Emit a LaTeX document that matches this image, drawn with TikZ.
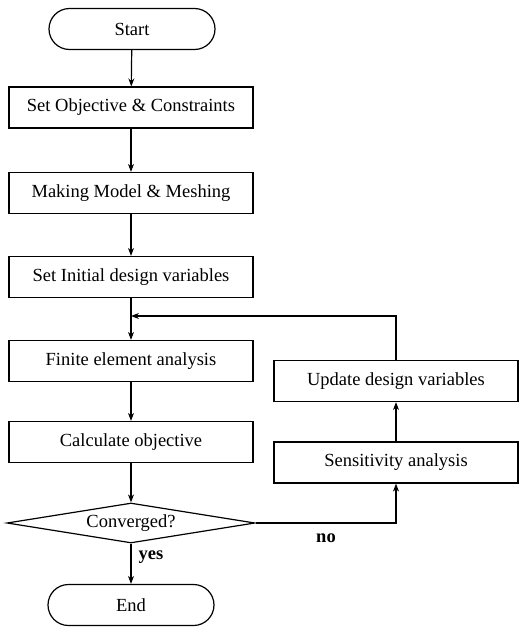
\documentclass[tikz,border=0pt]{standalone}
\usepackage{fontspec}
\setmainfont{Liberation Serif}
\usetikzlibrary{shapes.geometric,shapes.misc,arrows.meta}
\begin{document}
\begin{tikzpicture}[x=1pt,y=-1pt,
  font=\fontsize{18.5}{21}\selectfont,
  every node/.style={inner sep=0pt},
  stepbox/.style={draw,line width=1.2pt,minimum width=244pt,minimum height=41pt},
  term/.style={draw,line width=1.2pt,rounded rectangle,minimum width=166pt,minimum height=41pt},
  decision/.style={draw,line width=1.2pt,diamond,aspect=6.2,minimum width=248pt,minimum height=40pt},
  arr/.style={line width=1.2pt,-{Stealth[length=8pt,width=6pt]}},
  lbl/.style={font=\fontsize{18.5}{21}\selectfont\bfseries}]
\useasboundingbox (0,0) rectangle (519,627);
\node[term] (start) at (132,29) {Start};
\node[stepbox] (obj) at (131,107.5) {Set Objective \& Constraints};
\node[stepbox] (model) at (131,193) {Making Model \& Meshing};
\node[stepbox] (init) at (131,277) {Set Initial design variables};
\node[stepbox] (fea) at (131,361) {Finite element analysis};
\node[stepbox] (calc) at (131,442) {Calculate objective};
\node[decision] (conv) at (131,523) {Converged?};
\node[term] (end) at (131,605) {End};
\node[stepbox] (upd) at (396,381) {Update design variables};
\node[stepbox] (sens) at (396,462.5) {Sensitivity analysis};
\coordinate (j) at (131,316);
\draw[arr] (start) -- (obj);
\draw[arr] (obj) -- (model);
\draw[arr] (model) -- (init);
\draw[arr] (init) -- (fea);
\draw[arr] (fea) -- (calc);
\draw[arr] (calc) -- (conv);
\draw[arr] (conv) -- (end);
\draw[arr] (conv.east) -| (sens.south);
\draw[arr] (sens) -- (upd);
\draw[arr] (upd.north) |- (j);
\node[lbl] (no) at (326,538) {no};
\node[lbl] (yes) at (151,557) {yes};
\end{tikzpicture}
\end{document}
